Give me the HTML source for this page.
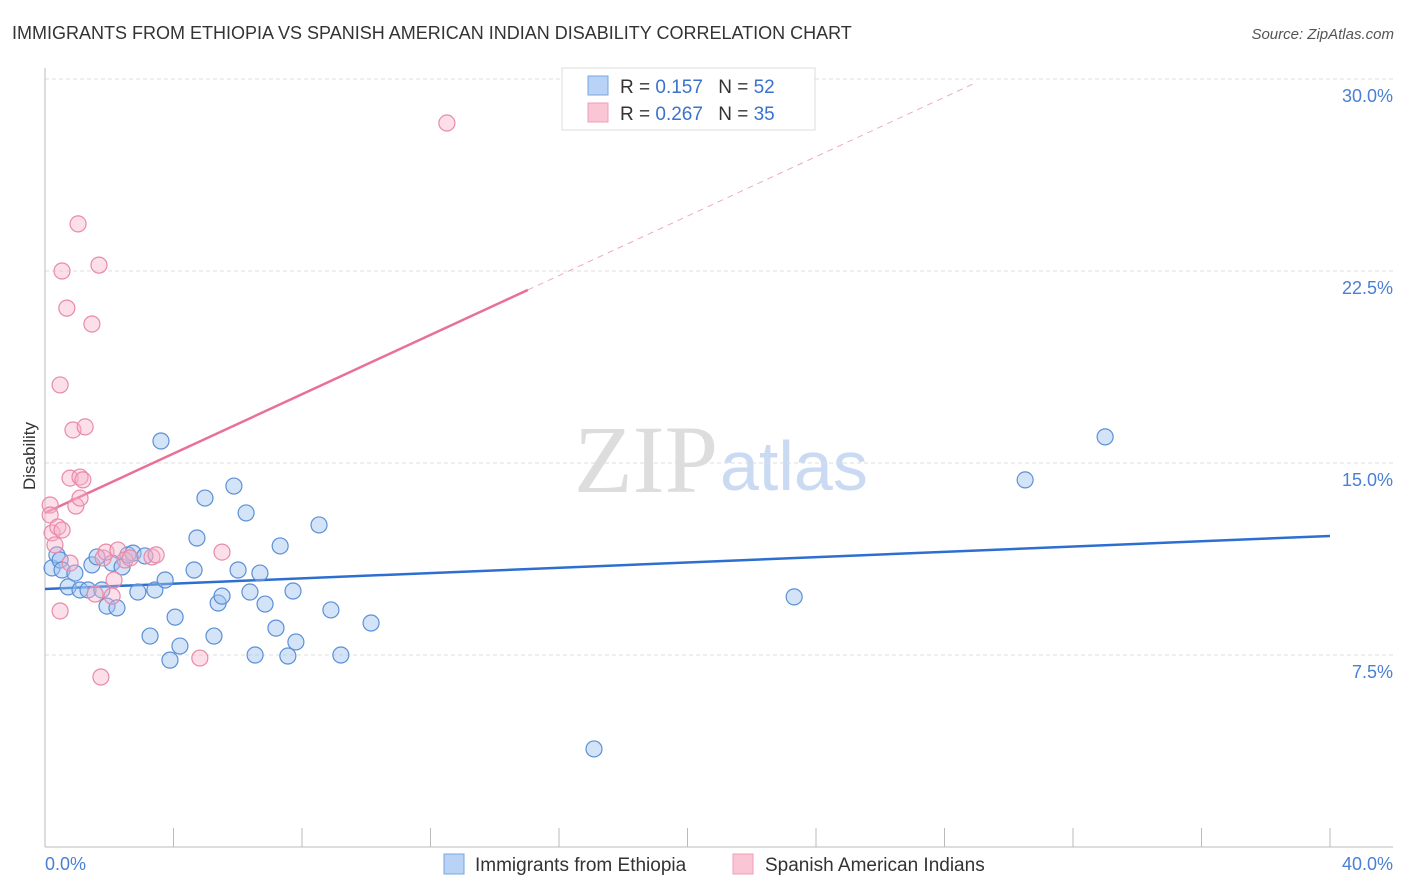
<!DOCTYPE html>
<html><head><meta charset="utf-8"><style>
body{margin:0;background:#fff;font-family:"Liberation Sans",sans-serif}
svg{display:block}
</style></head><body>
<svg id="c" width="1406" height="892" font-family="Liberation Sans, sans-serif">
<text x="12" y="39" font-size="18" fill="#333">IMMIGRANTS FROM ETHIOPIA VS SPANISH AMERICAN INDIAN DISABILITY CORRELATION CHART</text>
<text x="1394" y="39" font-size="15" fill="#555" font-style="italic" text-anchor="end">Source: ZipAtlas.com</text>
<text x="718" y="492" font-size="96" fill="#ddd" font-family="Liberation Serif, serif" text-anchor="end">ZIP</text>
<text x="720" y="490" font-size="70" fill="#c9daf2">atlas</text>
<g id="grid"></g>
<g id="axes"></g>
<g id="lines"></g>
<g id="pts"></g>
<text x="35" y="456" font-size="17" fill="#333" transform="rotate(-90 35 456)" text-anchor="middle">Disability</text>
<text x="45" y="870" font-size="18" fill="#4a7fd4">0.0%</text>
<text x="1393" y="870" font-size="18" fill="#4a7fd4" text-anchor="end">40.0%</text>
<g>
<rect x="562" y="68" width="253" height="62" fill="#fff" stroke="#ddd"/>
<rect x="588" y="76" width="20" height="19" fill="#b8d3f5" stroke="#7aa7e0"/>
<rect x="588" y="103" width="20" height="19" fill="#fac6d6" stroke="#ef9fb8"/>
<text x="620" y="93" font-size="19" fill="#333">R = <tspan fill="#3a72cc">0.157</tspan>  <tspan dx="10">N = </tspan><tspan fill="#3a72cc">52</tspan></text>
<text x="620" y="120" font-size="19" fill="#333">R = <tspan fill="#3a72cc">0.267</tspan>  <tspan dx="10">N = </tspan><tspan fill="#3a72cc">35</tspan></text>
</g>
<g>
<rect x="444" y="854" width="20" height="20" fill="#b8d3f5" stroke="#7aa7e0"/>
<text x="475" y="871" font-size="19" fill="#333">Immigrants from Ethiopia</text>
<rect x="733" y="854" width="20" height="20" fill="#fac6d6" stroke="#ef9fb8"/>
<text x="765" y="871" font-size="19" fill="#333">Spanish American Indians</text>
</g>
</svg>
<script>
const yTicks=[7.5,15,22.5,30];
const yTickLabels=["7.5%","15.0%","22.5%","30.0%"];
const xTicks=[0,4,8,12,16,20,24,28,32,36,40];
const blueX=[0.22,0.37,0.47,0.53,0.72,0.93,1.09,1.34,1.46,1.62,1.77,1.93,2.09,2.24,2.40,2.58,2.74,2.89,3.11,3.27,3.42,3.61,3.74,3.89,4.05,4.20,4.64,4.73,4.98,5.26,5.39,5.51,5.88,6.01,6.26,6.38,6.54,6.69,6.85,7.19,7.32,7.56,7.72,7.81,8.53,8.90,9.21,10.15,17.09,23.32,30.51,33.0];
const blueY=[10.9,11.41,11.21,10.82,10.16,10.70,10.04,10.04,11.02,11.33,10.04,9.41,11.09,9.34,10.94,11.41,11.48,9.96,11.37,8.24,10.04,15.86,10.43,7.30,8.98,7.85,10.82,12.07,13.63,8.24,9.53,9.80,14.10,10.82,13.05,9.96,7.50,10.70,9.49,8.55,11.76,7.46,10.0,8.01,12.58,9.26,7.50,8.75,3.83,9.77,14.34,16.02];
const pinkX=[0.16,0.16,0.22,0.31,0.40,0.53,0.47,0.47,0.53,0.68,0.78,0.87,0.96,1.03,1.09,1.09,1.18,1.25,1.46,1.56,1.68,1.74,1.81,1.90,2.09,2.15,2.27,2.49,3.33,3.46,4.82,5.51,12.51,2.65,0.78];
const pinkY=[13.36,12.97,12.27,11.80,12.5,12.38,9.22,18.05,22.5,21.05,14.41,16.29,13.32,24.34,14.45,13.63,14.34,16.41,20.43,9.88,22.73,6.64,11.29,11.52,9.80,10.43,11.60,11.21,11.33,11.41,7.38,11.52,28.28,11.29,11.09];
const blueTrend=[[0,10.08],[40,12.15]];
const pinkTrend=[[0,13.05],[15.03,21.76]];
const pinkTrendExt=[[15.03,21.76],[28.95,29.84]];
const X=v=>45+v*32.125, Y=v=>847-v*25.6;
const NS="http://www.w3.org/2000/svg";
function mk(p,t,a){const e=document.createElementNS(NS,t);for(const k in a)e.setAttribute(k,a[k]);p.appendChild(e);return e;}
const grid=document.getElementById('grid'),axes=document.getElementById('axes'),lines=document.getElementById('lines'),pts=document.getElementById('pts');
yTicks.forEach((t,i)=>{
 const l=mk(grid,'line',{x1:45,x2:1393,y1:Y(t),y2:Y(t),stroke:'#ddd','stroke-dasharray':'4,3'});
 
 
 const tx=mk(grid,'text',{x:1393,y:Y(t)+23,'font-size':18,fill:'#4a7fd4','text-anchor':'end'});
 tx.textContent=yTickLabels[i];
 
 
});
let a=mk(axes,'line',{x1:45,x2:45,y1:68,y2:847,stroke:'#bbb'});


a=mk(axes,'line',{x1:45,x2:1393,y1:847,y2:847,stroke:'#bbb'});


xTicks.forEach(t=>{
 const l=mk(axes,'line',{x1:X(t),x2:X(t),y1:828,y2:847,stroke:'#bbb'});
 
 
});
function seg(p,attrs,name){const l=mk(lines,'line',Object.assign({x1:X(p[0][0]),y1:Y(p[0][1]),x2:X(p[1][0]),y2:Y(p[1][1])},attrs));
 
 }
seg(blueTrend,{stroke:'#2d6fd0','stroke-width':2.5},'ethiopia-trend-line');
seg(pinkTrend,{stroke:'#e8709a','stroke-width':2.5},'spanish-trend-line');
seg(pinkTrendExt,{stroke:'#eeaac0','stroke-width':1,'stroke-dasharray':'6,5'},'spanish-trend-extension');
blueX.forEach((x,i)=>{
 const c=mk(pts,'circle',{cx:X(x),cy:Y(blueY[i]),r:8,fill:'rgba(160,195,240,0.45)',stroke:'#5b8fd6','stroke-width':1.2});
 
 
});
pinkX.forEach((x,i)=>{
 const c=mk(pts,'circle',{cx:X(x),cy:Y(pinkY[i]),r:8,fill:'rgba(248,175,200,0.4)',stroke:'#e88aa8','stroke-width':1.2});
 
 
});
</script>
</body></html>
